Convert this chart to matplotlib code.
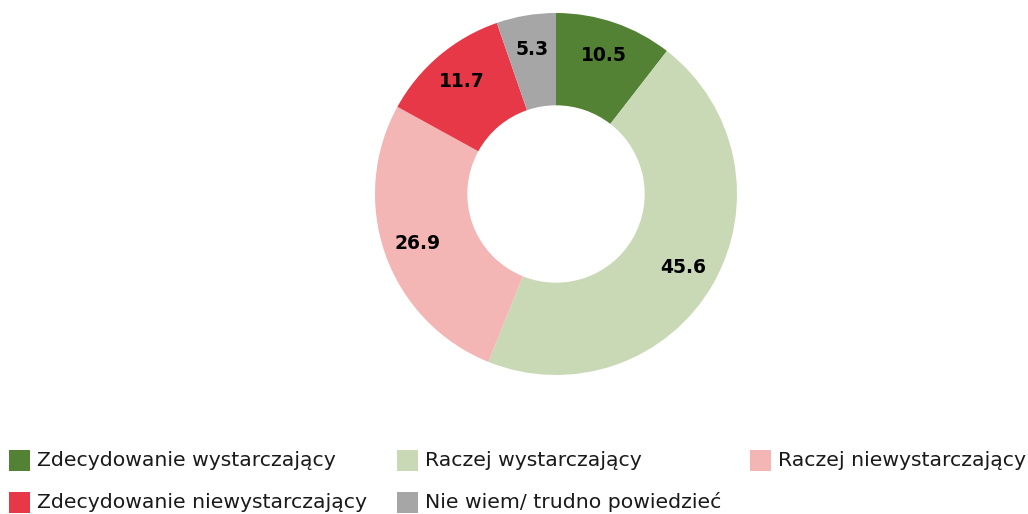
import matplotlib
matplotlib.use("Agg")
import matplotlib.pyplot as plt
from matplotlib.patches import Rectangle

categories = ["Zdecydowanie wystarczający", "Raczej wystarczający", "Raczej niewystarczający",
              "Zdecydowanie niewystarczający", "Nie wiem/ trudno powiedzieć"]
values = [10.5, 45.6, 26.9, 11.7, 5.3]
colors = ["#548235", "#C9D9B5", "#F4B5B5", "#E73847", "#A6A6A6"]

fig = plt.figure(figsize=(10.28, 5.14), dpi=100)
ax = fig.add_axes([375 / 1028, 139 / 514, 362 / 1028, 362 / 514])
wedges, texts, autotexts = ax.pie(
    values, colors=colors, startangle=90, counterclock=False, radius=1.0,
    wedgeprops=dict(width=0.51, edgecolor="none"),
    autopct=lambda p: f"{p:.1f}", pctdistance=0.81,
    textprops=dict(fontsize=13.5, fontweight="bold", color="black"))
ax.set_xlim(-1, 1)
ax.set_ylim(-1, 1)
ax.set_aspect("equal")
ax.axis("off")

# legend
W, H = 1028, 514
col_x = [9, 397, 750]
row_y = [460, 502]
sq = 21
for i, (cat, col) in enumerate(zip(categories, colors)):
    r, c = divmod(i, 3)
    x0 = col_x[c]
    yc = row_y[r]
    fig.patches.append(Rectangle((x0 / W, 1 - (yc + sq / 2) / H), sq / W, sq / H,
                                 transform=fig.transFigure, facecolor=col, edgecolor="none"))
    fig.text((x0 + 28) / W, 1 - yc / H, cat, fontsize=14.7, va="center", ha="left", color="#1a1a1a")

fig.savefig("out.png", dpi=100)
